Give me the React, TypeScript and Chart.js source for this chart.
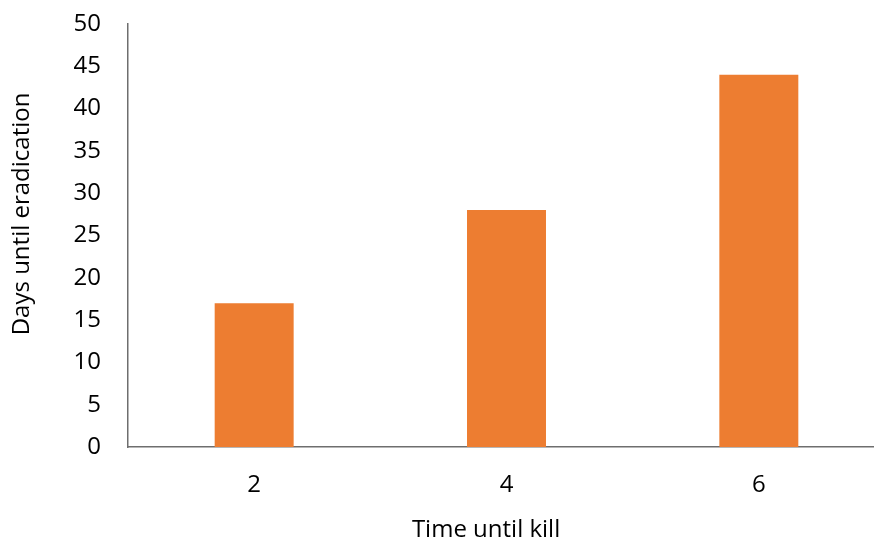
import React, { useEffect, useRef } from "react";
import { Chart, registerables } from "chart.js";

Chart.register(...registerables);

const categories = ["2", "4", "6"];
const daysUntilEradication = [17, 28, 44];
const yMin = 0;
const yMax = 50;
const yStep = 5;
const xTitle = "Time until kill";
const yTitle = "Days until eradication";

const FONT = "'Open Sans', sans-serif";
const FONT_SIZE = 24;

const titlePlugin = {
  id: "excelTitles",
  afterDraw(chart: any) {
    const { ctx, chartArea } = chart;
    ctx.save();
    ctx.fillStyle = "#000";
    ctx.font = `${FONT_SIZE}px ${FONT}`;
    ctx.textAlign = "center";
    ctx.textBaseline = "alphabetic";
    const xc = chartArea.left + (chartArea.right - chartArea.left) * 0.473;
    ctx.fillText(xTitle, xc, chart.height - 4);
    const yc = chartArea.top + (chartArea.bottom - chartArea.top) * 0.449;
    ctx.translate(29, yc);
    ctx.rotate(-Math.PI / 2);
    ctx.fillText(yTitle, 0, 0);
    ctx.restore();
  },
};

export default function App() {
  const ref = useRef<HTMLCanvasElement | null>(null);

  useEffect(() => {
    if (!ref.current) return;
    const chart = new Chart(ref.current, {
      type: "bar",
      data: {
        labels: categories,
        datasets: [
          {
            label: yTitle,
            data: daysUntilEradication,
            backgroundColor: "#ED7D31",
            borderWidth: 0,
            barPercentage: 0.313,
            categoryPercentage: 1,
          },
        ],
      },
      plugins: [titlePlugin],
      options: {
        responsive: false,
        animation: false,
        layout: { autoPadding: false, padding: { top: 24, right: 15, bottom: 0, left: 0 } },
        plugins: { legend: { display: false }, tooltip: { enabled: false } },
        scales: {
          x: {
            grid: { display: false, drawTicks: false },
            border: { display: true, color: "#6E6E6E", width: 1.5 },
            ticks: { color: "#000", font: { family: FONT, size: FONT_SIZE }, padding: 24 },
            afterFit: (s: any) => {
              s.height = 94;
              s.paddingLeft = 0;
              s.paddingRight = 0;
            },
          },
          y: {
            min: yMin,
            max: yMax,
            grid: { display: false, drawTicks: false },
            border: { display: true, color: "#6E6E6E", width: 1.5 },
            ticks: {
              stepSize: yStep,
              color: "#000",
              font: { family: FONT, size: FONT_SIZE },
              padding: 27,
            },
            afterFit: (s: any) => {
              s.width = 128;
              s.paddingTop = 0;
              s.paddingBottom = 0;
            },
          },
        },
      },
    });
    return () => chart.destroy();
  }, []);

  return (
    <div
      style={{
        position: "fixed",
        left: 0,
        top: 0,
        width: 874,
        height: 541,
        overflow: "hidden",
        background: "#fff",
      }}
    >
      <canvas ref={ref} width={900} height={541} style={{ width: 900, height: 541, display: "block" }} />
    </div>
  );
}
